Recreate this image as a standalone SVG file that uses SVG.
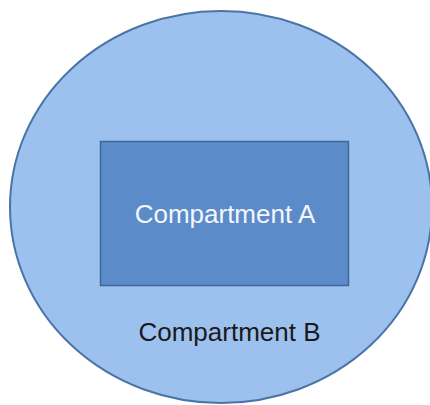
<svg xmlns="http://www.w3.org/2000/svg" width="430" height="405" viewBox="0 0 430 405">
<style>
.lbl{font-family:"Liberation Sans",Arial,sans-serif;font-size:26px;text-anchor:middle}
</style>
<rect width="430" height="405" fill="#ffffff"/>
<g id="compartmentB">
<ellipse cx="221" cy="207" rx="211" ry="196" fill="#9dc1ee" stroke="#4a74a6" stroke-width="2"/>
<text class="lbl" x="229.5" y="341" fill="#1a1a1a">Compartment B</text>
</g>
<g id="compartmentA">
<rect x="100.5" y="141.5" width="248" height="144" fill="#5b8cc9" stroke="#3f6795" stroke-width="1.5"/>
<text class="lbl" x="225" y="223" fill="#f4f6fa">Compartment A</text>
</g>
<g id="connectors"></g>
</svg>
